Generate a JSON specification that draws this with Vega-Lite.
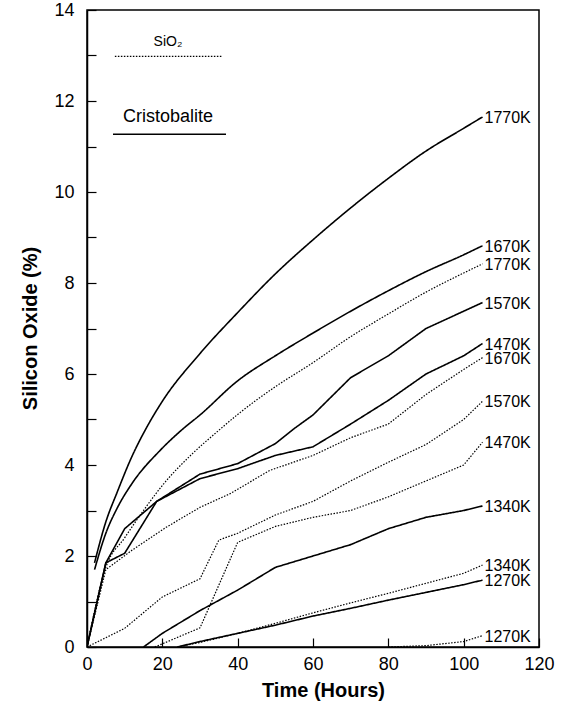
{
  "$schema": "https://vega.github.io/schema/vega-lite/v6.json",
  "autosize": {"type": "none"},
  "padding": {"left": 87, "top": 10, "right": 24, "bottom": 63},
  "width": 452,
  "height": 637,
  "background": "white",
  "config": {
    "view": {"stroke": "#000", "strokeWidth": 1.5},
    "font": "Liberation Sans",
    "axis": {"grid": false, "domainColor": "#000", "domainWidth": 1.5, "tickColor": "#000", "tickWidth": 1.2, "labelColor": "#000", "titleColor": "#000", "labelFont": "Liberation Sans", "titleFont": "Liberation Sans"}
  },
  "datasets": {
    "curves": [
      {"phase": "Cristobalite", "temp": "1770K", "x": 2, "y": 1.85},
      {"phase": "Cristobalite", "temp": "1770K", "x": 5, "y": 2.75},
      {"phase": "Cristobalite", "temp": "1770K", "x": 8, "y": 3.4},
      {"phase": "Cristobalite", "temp": "1770K", "x": 12, "y": 4.2},
      {"phase": "Cristobalite", "temp": "1770K", "x": 16, "y": 4.85},
      {"phase": "Cristobalite", "temp": "1770K", "x": 20, "y": 5.4},
      {"phase": "Cristobalite", "temp": "1770K", "x": 30, "y": 6.45},
      {"phase": "Cristobalite", "temp": "1770K", "x": 40, "y": 7.35},
      {"phase": "Cristobalite", "temp": "1770K", "x": 50, "y": 8.2},
      {"phase": "Cristobalite", "temp": "1770K", "x": 60, "y": 8.95},
      {"phase": "Cristobalite", "temp": "1770K", "x": 70, "y": 9.65},
      {"phase": "Cristobalite", "temp": "1770K", "x": 80, "y": 10.3},
      {"phase": "Cristobalite", "temp": "1770K", "x": 90, "y": 10.9},
      {"phase": "Cristobalite", "temp": "1770K", "x": 100, "y": 11.4},
      {"phase": "Cristobalite", "temp": "1770K", "x": 105, "y": 11.65},
      {"phase": "Cristobalite", "temp": "1670K", "x": 2, "y": 1.7},
      {"phase": "Cristobalite", "temp": "1670K", "x": 5, "y": 2.5},
      {"phase": "Cristobalite", "temp": "1670K", "x": 8, "y": 3.05},
      {"phase": "Cristobalite", "temp": "1670K", "x": 12, "y": 3.6},
      {"phase": "Cristobalite", "temp": "1670K", "x": 19.4, "y": 4.32},
      {"phase": "Cristobalite", "temp": "1670K", "x": 25, "y": 4.76},
      {"phase": "Cristobalite", "temp": "1670K", "x": 30, "y": 5.1},
      {"phase": "Cristobalite", "temp": "1670K", "x": 40, "y": 5.85},
      {"phase": "Cristobalite", "temp": "1670K", "x": 50, "y": 6.4},
      {"phase": "Cristobalite", "temp": "1670K", "x": 60, "y": 6.9},
      {"phase": "Cristobalite", "temp": "1670K", "x": 70, "y": 7.38},
      {"phase": "Cristobalite", "temp": "1670K", "x": 80, "y": 7.83},
      {"phase": "Cristobalite", "temp": "1670K", "x": 90, "y": 8.25},
      {"phase": "Cristobalite", "temp": "1670K", "x": 100, "y": 8.62},
      {"phase": "Cristobalite", "temp": "1670K", "x": 105, "y": 8.82},
      {"phase": "Cristobalite", "temp": "1570K", "x": 0, "y": 0},
      {"phase": "Cristobalite", "temp": "1570K", "x": 5, "y": 1.85},
      {"phase": "Cristobalite", "temp": "1570K", "x": 10, "y": 2.6},
      {"phase": "Cristobalite", "temp": "1570K", "x": 18.5, "y": 3.2},
      {"phase": "Cristobalite", "temp": "1570K", "x": 30, "y": 3.8},
      {"phase": "Cristobalite", "temp": "1570K", "x": 40, "y": 4.03},
      {"phase": "Cristobalite", "temp": "1570K", "x": 50, "y": 4.47},
      {"phase": "Cristobalite", "temp": "1570K", "x": 55, "y": 4.8},
      {"phase": "Cristobalite", "temp": "1570K", "x": 60, "y": 5.1},
      {"phase": "Cristobalite", "temp": "1570K", "x": 70, "y": 5.92},
      {"phase": "Cristobalite", "temp": "1570K", "x": 80, "y": 6.4},
      {"phase": "Cristobalite", "temp": "1570K", "x": 90, "y": 7.0},
      {"phase": "Cristobalite", "temp": "1570K", "x": 105, "y": 7.57},
      {"phase": "Cristobalite", "temp": "1470K", "x": 0, "y": 0},
      {"phase": "Cristobalite", "temp": "1470K", "x": 5, "y": 1.85},
      {"phase": "Cristobalite", "temp": "1470K", "x": 10, "y": 2.06},
      {"phase": "Cristobalite", "temp": "1470K", "x": 18.5, "y": 3.2},
      {"phase": "Cristobalite", "temp": "1470K", "x": 30, "y": 3.7},
      {"phase": "Cristobalite", "temp": "1470K", "x": 40, "y": 3.92},
      {"phase": "Cristobalite", "temp": "1470K", "x": 50, "y": 4.21},
      {"phase": "Cristobalite", "temp": "1470K", "x": 60, "y": 4.4},
      {"phase": "Cristobalite", "temp": "1470K", "x": 70, "y": 4.9},
      {"phase": "Cristobalite", "temp": "1470K", "x": 80, "y": 5.42},
      {"phase": "Cristobalite", "temp": "1470K", "x": 90, "y": 6.0},
      {"phase": "Cristobalite", "temp": "1470K", "x": 100, "y": 6.4},
      {"phase": "Cristobalite", "temp": "1470K", "x": 105, "y": 6.67},
      {"phase": "Cristobalite", "temp": "1340K", "x": 15, "y": 0},
      {"phase": "Cristobalite", "temp": "1340K", "x": 20, "y": 0.3},
      {"phase": "Cristobalite", "temp": "1340K", "x": 30, "y": 0.8},
      {"phase": "Cristobalite", "temp": "1340K", "x": 40, "y": 1.25},
      {"phase": "Cristobalite", "temp": "1340K", "x": 50, "y": 1.75},
      {"phase": "Cristobalite", "temp": "1340K", "x": 60, "y": 2.0},
      {"phase": "Cristobalite", "temp": "1340K", "x": 70, "y": 2.25},
      {"phase": "Cristobalite", "temp": "1340K", "x": 80, "y": 2.6},
      {"phase": "Cristobalite", "temp": "1340K", "x": 90, "y": 2.85},
      {"phase": "Cristobalite", "temp": "1340K", "x": 100, "y": 3.0},
      {"phase": "Cristobalite", "temp": "1340K", "x": 105, "y": 3.1},
      {"phase": "Cristobalite", "temp": "1270K", "x": 24, "y": 0},
      {"phase": "Cristobalite", "temp": "1270K", "x": 30, "y": 0.12},
      {"phase": "Cristobalite", "temp": "1270K", "x": 40, "y": 0.3},
      {"phase": "Cristobalite", "temp": "1270K", "x": 50, "y": 0.48},
      {"phase": "Cristobalite", "temp": "1270K", "x": 60, "y": 0.68},
      {"phase": "Cristobalite", "temp": "1270K", "x": 70, "y": 0.85},
      {"phase": "Cristobalite", "temp": "1270K", "x": 80, "y": 1.03},
      {"phase": "Cristobalite", "temp": "1270K", "x": 90, "y": 1.2},
      {"phase": "Cristobalite", "temp": "1270K", "x": 100, "y": 1.37},
      {"phase": "Cristobalite", "temp": "1270K", "x": 105, "y": 1.47},
      {"phase": "SiO2", "temp": "1770K", "x": 0, "y": 0},
      {"phase": "SiO2", "temp": "1770K", "x": 5, "y": 1.75},
      {"phase": "SiO2", "temp": "1770K", "x": 10, "y": 2.4},
      {"phase": "SiO2", "temp": "1770K", "x": 15, "y": 3.0},
      {"phase": "SiO2", "temp": "1770K", "x": 20, "y": 3.55},
      {"phase": "SiO2", "temp": "1770K", "x": 28, "y": 4.25},
      {"phase": "SiO2", "temp": "1770K", "x": 34.4, "y": 4.72},
      {"phase": "SiO2", "temp": "1770K", "x": 40.6, "y": 5.15},
      {"phase": "SiO2", "temp": "1770K", "x": 50, "y": 5.72},
      {"phase": "SiO2", "temp": "1770K", "x": 60, "y": 6.25},
      {"phase": "SiO2", "temp": "1770K", "x": 70, "y": 6.82},
      {"phase": "SiO2", "temp": "1770K", "x": 80, "y": 7.32},
      {"phase": "SiO2", "temp": "1770K", "x": 90, "y": 7.8},
      {"phase": "SiO2", "temp": "1770K", "x": 100, "y": 8.22},
      {"phase": "SiO2", "temp": "1770K", "x": 105, "y": 8.42},
      {"phase": "SiO2", "temp": "1670K", "x": 0, "y": 0},
      {"phase": "SiO2", "temp": "1670K", "x": 5, "y": 1.7},
      {"phase": "SiO2", "temp": "1670K", "x": 12, "y": 2.13},
      {"phase": "SiO2", "temp": "1670K", "x": 21, "y": 2.63},
      {"phase": "SiO2", "temp": "1670K", "x": 30, "y": 3.07},
      {"phase": "SiO2", "temp": "1670K", "x": 38, "y": 3.37},
      {"phase": "SiO2", "temp": "1670K", "x": 48.5, "y": 3.88},
      {"phase": "SiO2", "temp": "1670K", "x": 60, "y": 4.21},
      {"phase": "SiO2", "temp": "1670K", "x": 70, "y": 4.6},
      {"phase": "SiO2", "temp": "1670K", "x": 80, "y": 4.9},
      {"phase": "SiO2", "temp": "1670K", "x": 90, "y": 5.55},
      {"phase": "SiO2", "temp": "1670K", "x": 100, "y": 6.1},
      {"phase": "SiO2", "temp": "1670K", "x": 105, "y": 6.36},
      {"phase": "SiO2", "temp": "1570K", "x": 0, "y": 0},
      {"phase": "SiO2", "temp": "1570K", "x": 10, "y": 0.41},
      {"phase": "SiO2", "temp": "1570K", "x": 20, "y": 1.1},
      {"phase": "SiO2", "temp": "1570K", "x": 30, "y": 1.5},
      {"phase": "SiO2", "temp": "1570K", "x": 35, "y": 2.35},
      {"phase": "SiO2", "temp": "1570K", "x": 40, "y": 2.5},
      {"phase": "SiO2", "temp": "1570K", "x": 50, "y": 2.9},
      {"phase": "SiO2", "temp": "1570K", "x": 60, "y": 3.2},
      {"phase": "SiO2", "temp": "1570K", "x": 70, "y": 3.65},
      {"phase": "SiO2", "temp": "1570K", "x": 80, "y": 4.06},
      {"phase": "SiO2", "temp": "1570K", "x": 90, "y": 4.45},
      {"phase": "SiO2", "temp": "1570K", "x": 100, "y": 5.0},
      {"phase": "SiO2", "temp": "1570K", "x": 105, "y": 5.4},
      {"phase": "SiO2", "temp": "1470K", "x": 18, "y": 0},
      {"phase": "SiO2", "temp": "1470K", "x": 30, "y": 0.42},
      {"phase": "SiO2", "temp": "1470K", "x": 40, "y": 2.3},
      {"phase": "SiO2", "temp": "1470K", "x": 50, "y": 2.65},
      {"phase": "SiO2", "temp": "1470K", "x": 60, "y": 2.85},
      {"phase": "SiO2", "temp": "1470K", "x": 70, "y": 3.0},
      {"phase": "SiO2", "temp": "1470K", "x": 80, "y": 3.3},
      {"phase": "SiO2", "temp": "1470K", "x": 90, "y": 3.65},
      {"phase": "SiO2", "temp": "1470K", "x": 100, "y": 4.0},
      {"phase": "SiO2", "temp": "1470K", "x": 105, "y": 4.5},
      {"phase": "SiO2", "temp": "1340K", "x": 24, "y": 0},
      {"phase": "SiO2", "temp": "1340K", "x": 30, "y": 0.1},
      {"phase": "SiO2", "temp": "1340K", "x": 40, "y": 0.3},
      {"phase": "SiO2", "temp": "1340K", "x": 50, "y": 0.52},
      {"phase": "SiO2", "temp": "1340K", "x": 60, "y": 0.75},
      {"phase": "SiO2", "temp": "1340K", "x": 70, "y": 0.97},
      {"phase": "SiO2", "temp": "1340K", "x": 80, "y": 1.18},
      {"phase": "SiO2", "temp": "1340K", "x": 90, "y": 1.4},
      {"phase": "SiO2", "temp": "1340K", "x": 100, "y": 1.62},
      {"phase": "SiO2", "temp": "1340K", "x": 105, "y": 1.8},
      {"phase": "SiO2", "temp": "1270K", "x": 80, "y": 0},
      {"phase": "SiO2", "temp": "1270K", "x": 90, "y": 0.03},
      {"phase": "SiO2", "temp": "1270K", "x": 100, "y": 0.12},
      {"phase": "SiO2", "temp": "1270K", "x": 105, "y": 0.25}
    ],
    "legend": [
      {"phase": "SiO2", "label": "SiO₂", "x": 7.4, "x2": 35.8, "y": 12.98, "ty": 13.3},
      {"phase": "Cristobalite", "label": "Cristobalite", "x": 6.9, "x2": 36.9, "y": 11.27, "ty": 11.65}
    ]
  },
  "layer": [
    {
      "data": {"name": "curves"},
      "transform": [{"filter": "!((datum.phase === 'Cristobalite' && (datum.temp === '1770K' || datum.temp === '1670K')) || (datum.phase === 'SiO2' && datum.temp === '1770K'))"}],
      "mark": {"type": "line", "color": "#000", "clip": true},
      "encoding": {
        "x": {
          "field": "x", "type": "quantitative",
          "scale": {"domain": [0, 120], "nice": false},
          "axis": {
            "title": "Time (Hours)",
            "values": [0, 10, 20, 30, 40, 50, 60, 70, 80, 90, 100, 110, 120],
            "labelExpr": "datum.value % 20 === 0 ? datum.label : ''",
            "tickSize": -9,
            "labelPadding": 17,
            "labelFontSize": 18,
            "labelFlush": false,
            "titleFontSize": 20,
            "titleFontWeight": "bold",
            "titleX": 236,
            "titleY": 43,
            "titleBaseline": "middle",
            "encode": {"ticks": {"update": {"y2": {"signal": "datum.value % 20 === 0 ? -9 : -4"}}}}
          }
        },
        "y": {
          "field": "y", "type": "quantitative",
          "scale": {"domain": [0, 14], "nice": false},
          "axis": {
            "title": "Silicon Oxide (%)",
            "values": [0, 1, 2, 3, 4, 5, 6, 7, 8, 9, 10, 11, 12, 13, 14],
            "labelExpr": "datum.value % 2 === 0 ? datum.label : ''",
            "tickSize": -9,
            "labelPadding": 22,
            "labelFontSize": 18,
            "labelFlush": false,
            "titleFontSize": 20,
            "titleFontWeight": "bold",
            "titleX": -57,
            "titleY": 318,
            "titleAngle": -90,
            "titleAlign": "center",
            "titleBaseline": "middle",
            "encode": {"ticks": {"update": {"x2": {"signal": "datum.value % 2 === 0 ? 9 : 4"}}}}
          }
        },
        "detail": {"field": "temp"},
        "strokeDash": {
          "field": "phase", "type": "nominal",
          "scale": {"domain": ["Cristobalite", "SiO2"], "range": [[1, 0], [1.5, 1.5]]},
          "legend": null
        },
        "strokeWidth": {
          "field": "phase", "type": "nominal",
          "scale": {"domain": ["Cristobalite", "SiO2"], "range": [1.6, 1.2]},
          "legend": null
        }
      }
    },
    {
      "data": {"name": "curves"},
      "transform": [{"filter": "(datum.phase === 'Cristobalite' && (datum.temp === '1770K' || datum.temp === '1670K')) || (datum.phase === 'SiO2' && datum.temp === '1770K')"}],
      "mark": {"type": "line", "color": "#000", "clip": true, "interpolate": "monotone"},
      "encoding": {
        "x": {"field": "x", "type": "quantitative"},
        "y": {"field": "y", "type": "quantitative"},
        "detail": {"field": "temp"},
        "strokeDash": {
          "field": "phase", "type": "nominal",
          "scale": {"domain": ["Cristobalite", "SiO2"], "range": [[1, 0], [1.5, 1.5]]},
          "legend": null
        },
        "strokeWidth": {
          "field": "phase", "type": "nominal",
          "scale": {"domain": ["Cristobalite", "SiO2"], "range": [1.6, 1.2]},
          "legend": null
        }
      }
    },
    {
      "data": {"name": "curves"},
      "transform": [{"filter": "datum.x === 105"}],
      "mark": {"type": "text", "align": "left", "baseline": "middle", "dx": 2, "dy": 1, "fontSize": 16, "color": "#000", "font": "Liberation Sans"},
      "encoding": {
        "x": {"field": "x", "type": "quantitative"},
        "y": {"field": "y", "type": "quantitative"},
        "text": {"field": "temp"}
      }
    },
    {
      "data": {"name": "legend"},
      "mark": {"type": "rule", "color": "#000"},
      "encoding": {
        "x": {"field": "x", "type": "quantitative"},
        "x2": {"field": "x2"},
        "y": {"field": "y", "type": "quantitative"},
        "strokeDash": {
          "field": "phase", "type": "nominal",
          "scale": {"domain": ["Cristobalite", "SiO2"], "range": [[1, 0], [1.5, 1.5]]},
          "legend": null
        },
        "strokeWidth": {
          "field": "phase", "type": "nominal",
          "scale": {"domain": ["Cristobalite", "SiO2"], "range": [1.6, 1.2]},
          "legend": null
        }
      }
    },
    {
      "data": {"name": "legend"},
      "mark": {"type": "text", "align": "center", "baseline": "middle", "color": "#000", "font": "Liberation Sans"},
      "encoding": {
        "x": {"datum": 21.5, "type": "quantitative"},
        "y": {"field": "ty", "type": "quantitative"},
        "text": {"field": "label"},
        "size": {
          "field": "phase", "type": "nominal",
          "scale": {"domain": ["Cristobalite", "SiO2"], "range": [18, 14]},
          "legend": null
        }
      }
    }
  ]
}
